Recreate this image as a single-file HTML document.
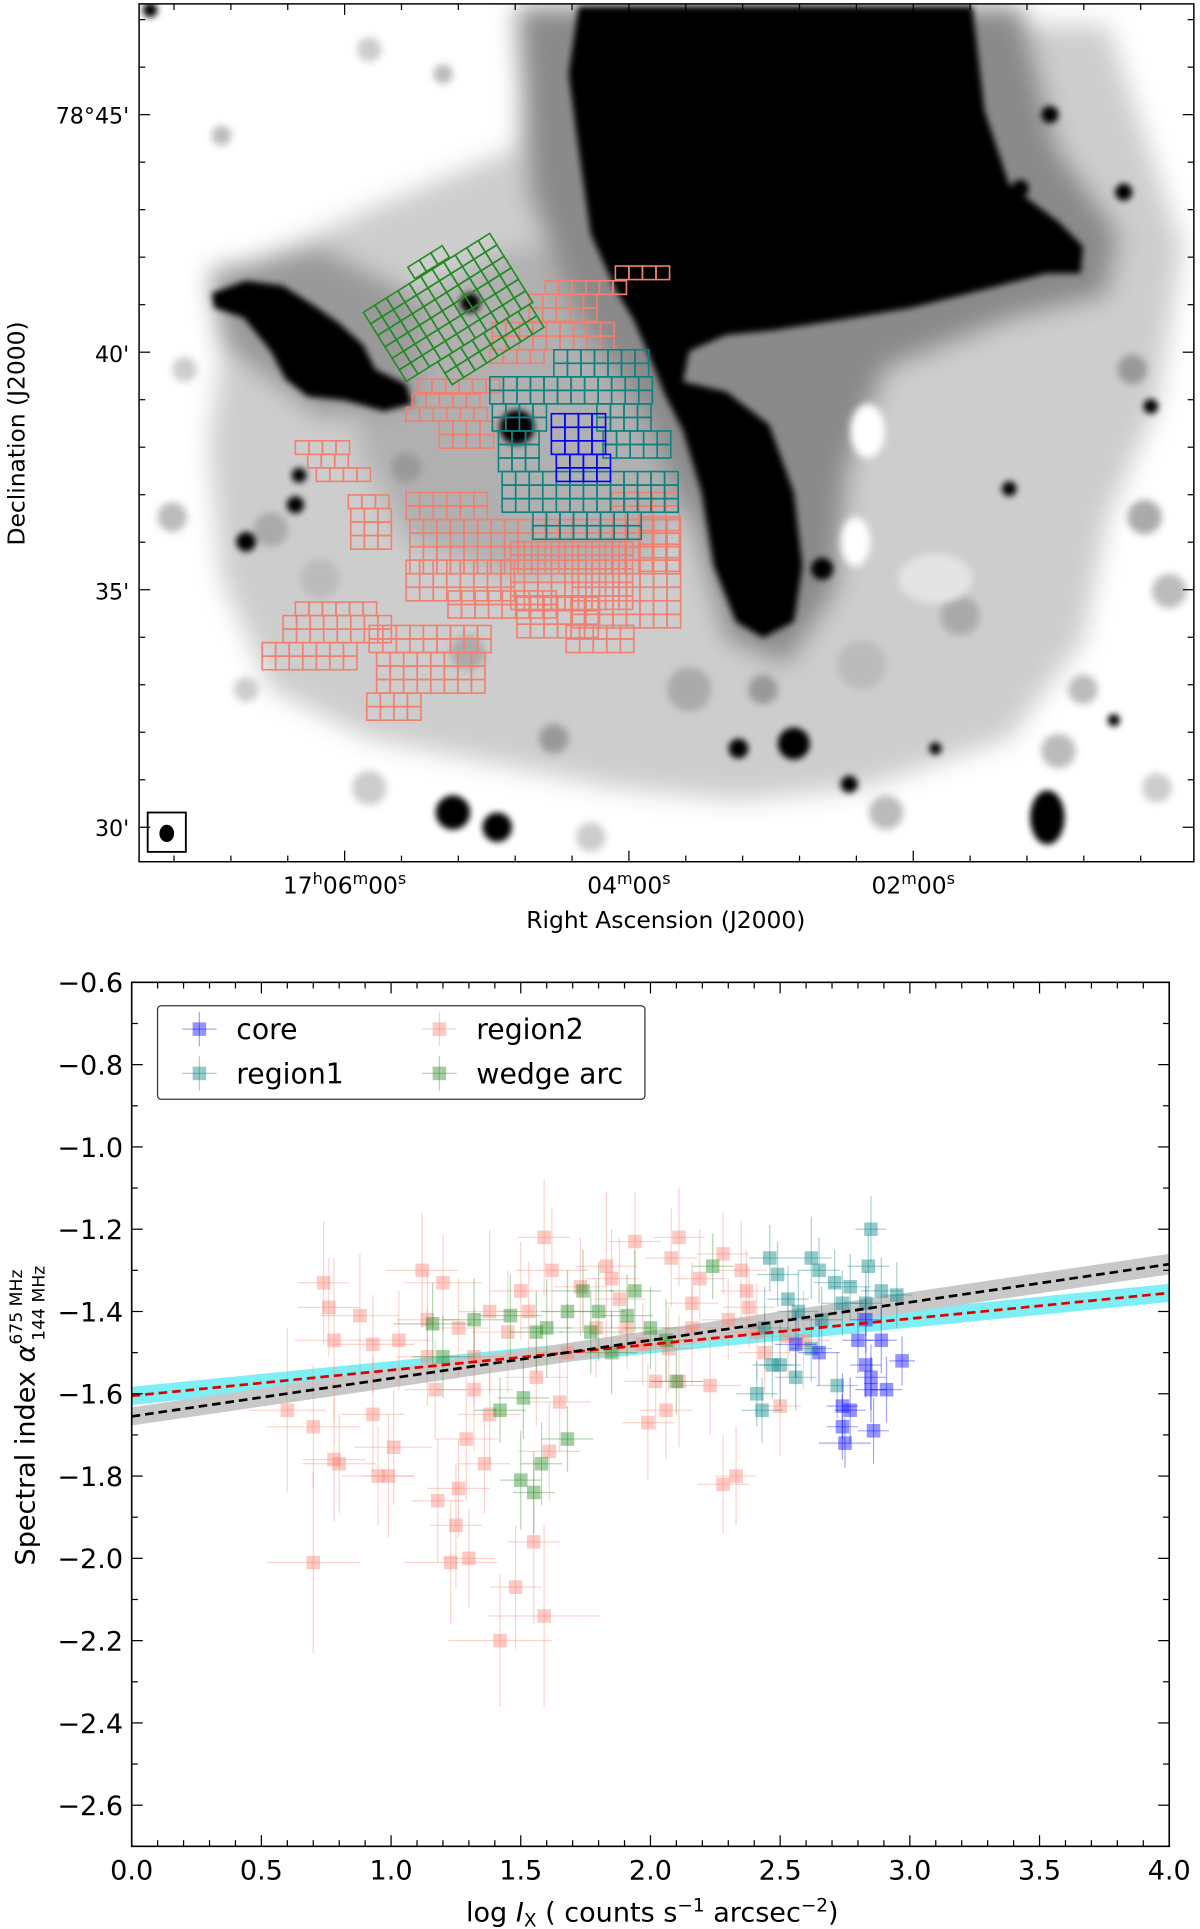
<!DOCTYPE html>
<html><head><meta charset="utf-8"><style>
html,body{margin:0;padding:0;background:#fff;}
svg{display:block;font-family:"DejaVu Sans","Liberation Sans",sans-serif;}
</style></head><body>
<svg id="fig" width="1200" height="1929" viewBox="0 0 975 1567" xmlns="http://www.w3.org/2000/svg">
<defs>
<filter id="b10" x="-50%" y="-50%" width="200%" height="200%"><feGaussianBlur stdDeviation="10"/></filter>
<filter id="b4" x="-50%" y="-50%" width="200%" height="200%"><feGaussianBlur stdDeviation="3"/></filter>
<filter id="b2" x="-50%" y="-50%" width="200%" height="200%"><feGaussianBlur stdDeviation="2.5"/></filter>
<clipPath id="imgclip"><rect x="113" y="3" width="857" height="697"/></clipPath>
<clipPath id="plotclip"><rect x="107" y="798" width="843" height="702"/></clipPath>
</defs>

<g id="image-panel">
<g clip-path="url(#imgclip)">
<rect x="113" y="3" width="857" height="697" fill="#fff"/>
<g filter="url(#b10)">
<polygon fill="#cdcdcd" points="190,220 300,170 420,120 430,20 900,20 960,200 940,330 900,420 880,520 820,600 700,640 600,650 500,640 400,620 300,600 220,560 180,470 170,360"/>
<polygon fill="#b0b0b0" points="300,260 420,200 520,210 600,260 560,400 520,460 420,470 330,440 290,360"/>
<polygon fill="#8a8a8a" points="420,5 830,5 860,120 910,190 900,240 820,260 720,300 690,380 680,480 640,540 590,520 560,420 520,330 470,260 430,160"/>
<polygon fill="#999" points="170,220 260,200 340,240 340,330 260,340 180,280"/>
</g>
<g filter="url(#b4)">
<circle cx="220" cy="430" r="14" fill="#aaa"/><circle cx="260" cy="470" r="16" fill="#bbb"/><circle cx="330" cy="380" r="12" fill="#999"/>
<circle cx="380" cy="530" r="14" fill="#aaa"/><circle cx="450" cy="600" r="12" fill="#999"/><circle cx="560" cy="560" r="18" fill="#aaa"/>
<circle cx="700" cy="540" r="20" fill="#bbb"/><circle cx="780" cy="500" r="16" fill="#aaa"/><circle cx="880" cy="560" r="12" fill="#bbb"/>
<circle cx="930" cy="420" r="14" fill="#aaa"/><circle cx="920" cy="300" r="12" fill="#999"/><circle cx="180" cy="110" r="8" fill="#bbb"/>
<circle cx="300" cy="40" r="10" fill="#ccc"/><circle cx="360" cy="60" r="8" fill="#bbb"/><circle cx="860" cy="610" r="14" fill="#bbb"/>
<circle cx="720" cy="660" r="14" fill="#bbb"/><circle cx="300" cy="640" r="14" fill="#ccc"/><circle cx="480" cy="680" r="12" fill="#ccc"/>
<circle cx="150" cy="300" r="10" fill="#ccc"/><circle cx="140" cy="420" r="12" fill="#bbb"/><circle cx="200" cy="560" r="10" fill="#ccc"/>
<circle cx="950" cy="480" r="14" fill="#bbb"/><circle cx="940" cy="640" r="12" fill="#ccc"/><circle cx="620" cy="560" r="12" fill="#999"/>
<ellipse cx="705" cy="350" rx="14" ry="22" fill="#fff"/><ellipse cx="695" cy="440" rx="12" ry="20" fill="#fff"/><ellipse cx="760" cy="470" rx="30" ry="20" fill="#e4e4e4"/>
</g>
<g filter="url(#b2)" fill="#000">
<polygon points="470,5 790,5 800,90 820,150 860,180 880,200 878,222 850,222 800,235 740,250 680,260 630,268 590,272 560,285 555,310 590,318 625,345 645,400 652,460 645,505 620,518 598,505 580,460 570,400 555,350 540,320 528,290 515,260 500,235 480,190 470,120 462,60"/>
<polygon points="172,238 200,228 230,232 255,248 275,262 295,280 305,300 330,312 335,328 312,334 280,325 250,322 232,308 220,285 198,258 174,250"/>
<circle cx="420" cy="347" r="14"/><circle cx="645" cy="604" r="13"/><circle cx="368" cy="660" r="14"/>
<circle cx="600" cy="608" r="8"/><circle cx="690" cy="637" r="7"/><ellipse cx="851" cy="664" rx="14" ry="22"/>
<circle cx="702" cy="52" r="12"/><circle cx="853" cy="93" r="7"/><circle cx="829" cy="153" r="7"/><circle cx="913" cy="156" r="7"/>
<circle cx="200" cy="440" r="8"/><circle cx="240" cy="410" r="7"/><circle cx="243" cy="386" r="6"/><circle cx="382" cy="246" r="8"/>
<circle cx="404" cy="672" r="12"/><circle cx="668" cy="462" r="9"/><circle cx="528" cy="263" r="6"/><circle cx="820" cy="397" r="6"/>
<circle cx="935" cy="330" r="6"/><circle cx="122" cy="8" r="6"/><circle cx="905" cy="585" r="5"/><circle cx="760" cy="608" r="5"/>
</g>
<g id="grids" fill="none" stroke-width="1.3"></g>
</g>
<rect x="113" y="3" width="857" height="697" fill="none" stroke="#000" stroke-width="1.2"/>
<rect x="120" y="660" width="31" height="32" fill="#fff" stroke="#000" stroke-width="1.5"/>
<ellipse cx="135.5" cy="677" rx="6" ry="7" fill="#000"/>
<g id="imgticks" stroke="#000" stroke-width="1"></g>
<g font-size="18" fill="#000" text-anchor="end">
<text x="105" y="100">78°45'</text><text x="105" y="294">40'</text><text x="105" y="487">35'</text><text x="105" y="679">30'</text>
</g>
<g font-size="19" fill="#000" text-anchor="middle">
<text x="280" y="726">17<tspan font-size="13" dy="-8">h</tspan><tspan dy="8">06</tspan><tspan font-size="13" dy="-8">m</tspan><tspan dy="8">00</tspan><tspan font-size="13" dy="-8">s</tspan></text>
<text x="511" y="726">04<tspan font-size="13" dy="-8">m</tspan><tspan dy="8">00</tspan><tspan font-size="13" dy="-8">s</tspan></text>
<text x="742" y="726">02<tspan font-size="13" dy="-8">m</tspan><tspan dy="8">00</tspan><tspan font-size="13" dy="-8">s</tspan></text>
</g>
<text x="541" y="754" font-size="19" text-anchor="middle">Right Ascension (J2000)</text>
<text transform="translate(20,352) rotate(-90)" font-size="19" text-anchor="middle">Declination (J2000)</text>
</g>

<g id="scatter-panel">
<g id="fits" clip-path="url(#plotclip)"></g>
<g id="points" clip-path="url(#plotclip)"></g>
<g id="fitlines" clip-path="url(#plotclip)"></g>
<rect x="107" y="798" width="843" height="702" fill="none" stroke="#000" stroke-width="1.3"/>
<g id="axes"></g>
<g>
<rect x="128" y="817" width="396" height="76" rx="3" fill="#fff" stroke="#333" stroke-width="1"/>
<g id="legend-items"></g>
</g>
<text x="530" y="1561" font-size="22" text-anchor="middle">log <tspan font-style="italic">I</tspan><tspan font-size="15" dy="4">X</tspan><tspan dy="-4"> ( counts s</tspan><tspan font-size="15" dy="-8">−1</tspan><tspan dy="8"> arcsec</tspan><tspan font-size="15" dy="-8">−2</tspan><tspan dy="8">)</tspan></text>
<text transform="translate(28,1150) rotate(-90)" font-size="22" text-anchor="middle">Spectral index <tspan font-style="italic">α</tspan><tspan font-size="14" dy="-10">675 MHz</tspan><tspan font-size="14" dx="-58" dy="18">144 MHz</tspan></text>
</g>
</svg>
<script>
const NS="http://www.w3.org/2000/svg";
const region2X=[0.60,0.70,0.70,0.74,0.76,0.78,0.78,0.80,0.88,0.93,0.93,0.95,0.99,1.01,1.03,1.12,1.14,1.18,1.20,1.23,1.25,1.26,1.30,1.29,1.32,1.36,1.38,1.42,1.45,1.48,1.53,1.55,1.59,1.59,1.61,1.62,1.65,1.73,1.83,1.88,1.94,1.99,2.02,2.08,2.11,2.11,2.06,2.16,2.19,2.23,2.28,2.28,2.33,2.35,2.37,2.41,2.44,2.50,2.53,2.59,1.79,1.68,1.26,1.14,1.91,2.30,1.50,1.85,1.38,1.17,1.97,2.16,1.56,2.38,2.07,1.32];
const region2Y=[-1.64,-1.68,-2.01,-1.33,-1.39,-1.47,-1.76,-1.77,-1.41,-1.48,-1.65,-1.80,-1.80,-1.73,-1.47,-1.30,-1.51,-1.86,-1.33,-2.01,-1.92,-1.83,-2.00,-1.71,-1.59,-1.77,-1.40,-2.20,-1.45,-2.07,-1.40,-1.96,-1.22,-2.14,-1.74,-1.30,-1.62,-1.34,-1.29,-1.37,-1.23,-1.67,-1.57,-1.27,-1.57,-1.22,-1.64,-1.44,-1.32,-1.58,-1.82,-1.26,-1.80,-1.30,-1.35,-1.45,-1.50,-1.63,-1.46,-1.47,-1.44,-1.50,-1.44,-1.42,-1.44,-1.42,-1.35,-1.32,-1.65,-1.59,-1.48,-1.38,-1.56,-1.39,-1.49,-1.51];
const region2Xerr=[0.15,0.18,0.18,0.1,0.12,0.15,0.12,0.14,0.15,0.16,0.12,0.14,0.1,0.15,0.12,0.14,0.12,0.1,0.15,0.18,0.1,0.12,0.1,0.12,0.15,0.1,0.12,0.2,0.14,0.1,0.12,0.1,0.1,0.22,0.12,0.14,0.12,0.1,0.12,0.1,0.1,0.1,0.12,0.1,0.1,0.1,0.1,0.12,0.1,0.12,0.1,0.1,0.08,0.1,0.1,0.1,0.1,0.08,0.1,0.1,0.12,0.12,0.12,0.12,0.1,0.1,0.12,0.1,0.12,0.12,0.1,0.1,0.12,0.1,0.1,0.12];
const region2Yerr=[0.2,0.15,0.22,0.15,0.12,0.2,0.15,0.12,0.15,0.12,0.14,0.12,0.15,0.14,0.12,0.14,0.12,0.15,0.12,0.15,0.15,0.12,0.12,0.15,0.15,0.12,0.2,0.16,0.15,0.15,0.12,0.2,0.14,0.22,0.12,0.15,0.12,0.12,0.18,0.15,0.12,0.14,0.12,0.12,0.16,0.12,0.12,0.14,0.12,0.12,0.12,0.1,0.12,0.12,0.1,0.12,0.1,0.12,0.1,0.12,0.12,0.12,0.12,0.12,0.1,0.1,0.12,0.12,0.12,0.12,0.1,0.1,0.12,0.1,0.1,0.12];
const wedgeX=[1.16,1.20,1.32,1.42,1.46,1.51,1.56,1.58,1.50,1.55,1.68,1.68,1.77,1.80,1.85,1.91,1.94,2.00,2.10,2.24,2.06,1.74,1.60];
const wedgeY=[-1.43,-1.51,-1.42,-1.64,-1.41,-1.61,-1.45,-1.77,-1.81,-1.84,-1.40,-1.71,-1.45,-1.40,-1.50,-1.41,-1.35,-1.44,-1.57,-1.29,-1.47,-1.35,-1.44];
const wedgeXerr=[0.15,0.12,0.12,0.1,0.12,0.1,0.1,0.08,0.08,0.08,0.1,0.1,0.12,0.1,0.1,0.1,0.1,0.1,0.1,0.08,0.1,0.12,0.1];
const wedgeYerr=[0.1,0.1,0.1,0.08,0.1,0.1,0.1,0.1,0.12,0.1,0.1,0.08,0.1,0.12,0.1,0.1,0.1,0.1,0.08,0.08,0.1,0.1,0.12];
const region1X=[2.46,2.62,2.65,2.85,2.84,2.77,2.89,2.71,2.49,2.53,2.57,2.44,2.47,2.41,2.43,2.56,2.50,2.66,2.74,2.83,2.95,2.72,2.62];
const region1Y=[-1.27,-1.27,-1.30,-1.20,-1.29,-1.34,-1.35,-1.33,-1.31,-1.37,-1.40,-1.44,-1.53,-1.60,-1.64,-1.56,-1.53,-1.42,-1.38,-1.38,-1.36,-1.58,-1.49];
const region1Xerr=[0.08,0.08,0.08,0.06,0.08,0.08,0.08,0.08,0.08,0.08,0.08,0.1,0.08,0.08,0.08,0.08,0.08,0.08,0.08,0.06,0.06,0.08,0.08];
const region1Yerr=[0.08,0.1,0.08,0.08,0.08,0.08,0.08,0.08,0.08,0.08,0.1,0.1,0.08,0.08,0.08,0.08,0.1,0.08,0.08,0.08,0.08,0.08,0.08];
const coreX=[2.56,2.65,2.74,2.77,2.74,2.75,2.85,2.85,2.91,2.86,2.97,2.89,2.83,2.83,2.80];
const coreY=[-1.48,-1.50,-1.63,-1.64,-1.68,-1.72,-1.56,-1.59,-1.59,-1.69,-1.52,-1.47,-1.42,-1.53,-1.47];
const coreXerr=[0.08,0.08,0.06,0.06,0.06,0.1,0.06,0.06,0.06,0.06,0.05,0.06,0.06,0.06,0.06];
const coreYerr=[0.08,0.08,0.08,0.08,0.08,0.06,0.08,0.08,0.08,0.08,0.06,0.08,0.08,0.08,0.08];
const fitAllX=[0,4], fitAllY=[-1.655,-1.285], fitAllBand=[0.022,0.025];
const fitCutX=[0,4], fitCutY=[-1.605,-1.355], fitCutBand=[0.022,0.022];
const xTicks=[0,0.5,1,1.5,2,2.5,3,3.5,4];
const xTickLabels=["0.0","0.5","1.0","1.5","2.0","2.5","3.0","3.5","4.0"];
const yTicks=[-0.6,-0.8,-1.0,-1.2,-1.4,-1.6,-1.8,-2.0,-2.2,-2.4,-2.6];
const yTickLabels=["−0.6","−0.8","−1.0","−1.2","−1.4","−1.6","−1.8","−2.0","−2.2","−2.4","−2.6"];
const X0=107,X1=950,Y0=798,Y1=1500;
const xs=v=>X0+(v-0)/(4-0)*(X1-X0);
const ys=v=>Y0+(-0.6-v)/(2.1)*(Y1-Y0);
function mk(tag,attrs,parent){const e=document.createElementNS(NS,tag);for(const k in attrs)e.setAttribute(k,attrs[k]);parent.appendChild(e);return e;}
const axes=document.getElementById('axes');
for(let i=0;i<=40;i++){const v=i*0.1,x=xs(v),L=(i%5==0)?9:5;
 mk('line',{x1:x,y1:Y1,x2:x,y2:Y1-L,stroke:'#000','stroke-width':1},axes);
 mk('line',{x1:x,y1:Y0,x2:x,y2:Y0+L,stroke:'#000','stroke-width':1},axes);}
for(let i=0;i<=21;i++){const v=-0.6-i*0.1,y=ys(v),L=(i%2==0)?9:5;
 mk('line',{x1:X0,y1:y,x2:X0+L,y2:y,stroke:'#000','stroke-width':1},axes);
 mk('line',{x1:X1,y1:y,x2:X1-L,y2:y,stroke:'#000','stroke-width':1},axes);}
xTicks.forEach((v,i)=>{const t=mk('text',{x:xs(v),y:1527,'font-size':22,'text-anchor':'middle'},axes);t.textContent=xTickLabels[i];
 
 });
yTicks.forEach((v,i)=>{const t=mk('text',{x:100,y:ys(v)+8,'font-size':22,'text-anchor':'end'},axes);t.textContent=yTickLabels[i];
 
 });
function band(fx,fy,fb,color,name){const g=document.getElementById('fits');
 const pts=[[xs(fx[0]),ys(fy[0]+fb[0])],[xs(fx[1]),ys(fy[1]+fb[1])],[xs(fx[1]),ys(fy[1]-fb[1])],[xs(fx[0]),ys(fy[0]-fb[0])]];
 const p=mk('polygon',{points:pts.map(p=>p.join(',')).join(' '),fill:color},g);
 
 }
band(fitCutX,fitCutY,fitCutBand,'#7ef0f5','fit-band-cyan');
band(fitAllX,fitAllY,fitAllBand,'#c8c8c8','fit-band-gray');
function series(X,Y,XE,YE,color,name){const g=mk('g',{},document.getElementById('points'));
 
 
 X.forEach((v,i)=>{const cx=xs(v),cy=ys(Y[i]);
  mk('line',{x1:xs(v-XE[i]),y1:cy,x2:xs(v+XE[i]),y2:cy,stroke:color,'stroke-opacity':0.35,'stroke-width':1},g);
  mk('line',{x1:cx,y1:ys(Y[i]-YE[i]),x2:cx,y2:ys(Y[i]+YE[i]),stroke:color,'stroke-opacity':0.35,'stroke-width':1},g);
  const r=mk('rect',{x:cx-5.5,y:cy-5.5,width:11,height:11,fill:color,'fill-opacity':0.42},g);
  
  });}
series(region2X,region2Y,region2Xerr,region2Yerr,'#fa8072','region2');
series(wedgeX,wedgeY,wedgeXerr,wedgeYerr,'#228b22','wedge-arc');
series(region1X,region1Y,region1Xerr,region1Yerr,'#008080','region1');
series(coreX,coreY,coreXerr,coreYerr,'#0000ff','core');
const fl=document.getElementById('fitlines');
const l1=mk('line',{x1:xs(fitCutX[0]),y1:ys(fitCutY[0]),x2:xs(fitCutX[1]),y2:ys(fitCutY[1]),stroke:'#e00000','stroke-width':2.2,'stroke-dasharray':'7,4'},fl);


const l2=mk('line',{x1:xs(fitAllX[0]),y1:ys(fitAllY[0]),x2:xs(fitAllX[1]),y2:ys(fitAllY[1]),stroke:'#000','stroke-width':2.2,'stroke-dasharray':'7,4'},fl);


const lg=document.getElementById('legend-items');
[['core','#0000ff',162,836],['region1','#008080',162,872],['region2','#fa8072',357,836],['wedge arc','#228b22',357,872]].forEach(e=>{
 const g=mk('g',{},lg);
 
 
 mk('line',{x1:e[2]-14,y1:e[3],x2:e[2]+14,y2:e[3],stroke:e[1],'stroke-opacity':0.35},g);
 mk('line',{x1:e[2],y1:e[3]-14,x2:e[2],y2:e[3]+14,stroke:e[1],'stroke-opacity':0.35},g);
 mk('rect',{x:e[2]-5.5,y:e[3]-5.5,width:11,height:11,fill:e[1],'fill-opacity':0.42},g);
 const t=mk('text',{x:e[2]+30,y:e[3]+8,'font-size':23},g);t.textContent=e[0];});
const it=document.getElementById('imgticks');
for(let k=-2;k<=20;k++){const y=93+k*38.6;if(y<5||y>698)continue;const L=(k%5==0)?9:5;
 mk('line',{x1:113,y1:y,x2:113+L,y2:y},it);mk('line',{x1:970,y1:y,x2:970-L,y2:y},it);}
for(let k=-5;k<=20;k++){const x=280+k*46.2;if(x<115||x>968)continue;const L=(k%5==0)?9:5;
 mk('line',{x1:x,y1:700,x2:x,y2:700-L},it);mk('line',{x1:x,y1:3,x2:x,y2:3+L},it);}
const G=document.getElementById('grids'),c=11;
function grid(color,blocks,name,tf){const g=mk('g',{stroke:color},G);if(tf)g.setAttribute('transform',tf);
 
 
 blocks.forEach(b=>{for(let i=0;i<b[2];i++)for(let j=0;j<b[3];j++)mk('rect',{x:b[0]+i*c,y:b[1]+j*c,width:c,height:c},g);});}
grid('#f08070',[[500,216,4,1],[443,228,6,1],[430,239,5,2],[400,262,9,2],[398,284,4,1],[340,308,6,1],[335,320,5,1],[330,331,6,1],[357,342,4,2],[240,358,4,1],[250,369,3,1],[257,380,4,1],[283,402,3,1],[285,413,3,3],[330,400,6,2],[333,422,16,4],[497,400,5,6],[330,455,8,3],[415,440,9,5],[465,455,8,5],[520,420,3,4],[240,489,6,1],[230,500,8,2],[213,522,7,2],[300,508,9,2],[306,530,8,3],[298,563,4,2],[364,480,8,2],[420,485,6,3],[460,508,5,2]],'region2-grid');
grid('#108080',[[450,284,7,2],[398,306,12,2],[400,328,4,2],[485,328,4,2],[405,350,3,3],[490,350,5,2],[408,383,13,3],[433,416,8,2]],'region1-grid');
grid('#0000ff',[[448,336,4,3],[452,369,4,2]],'core-grid');
grid('#228b22',[[310,215,11,6],[340,281,8,2],[360,203,3,1]],'wedge-arc-grid','rotate(-32 370 260)');
</script>
</body></html>
